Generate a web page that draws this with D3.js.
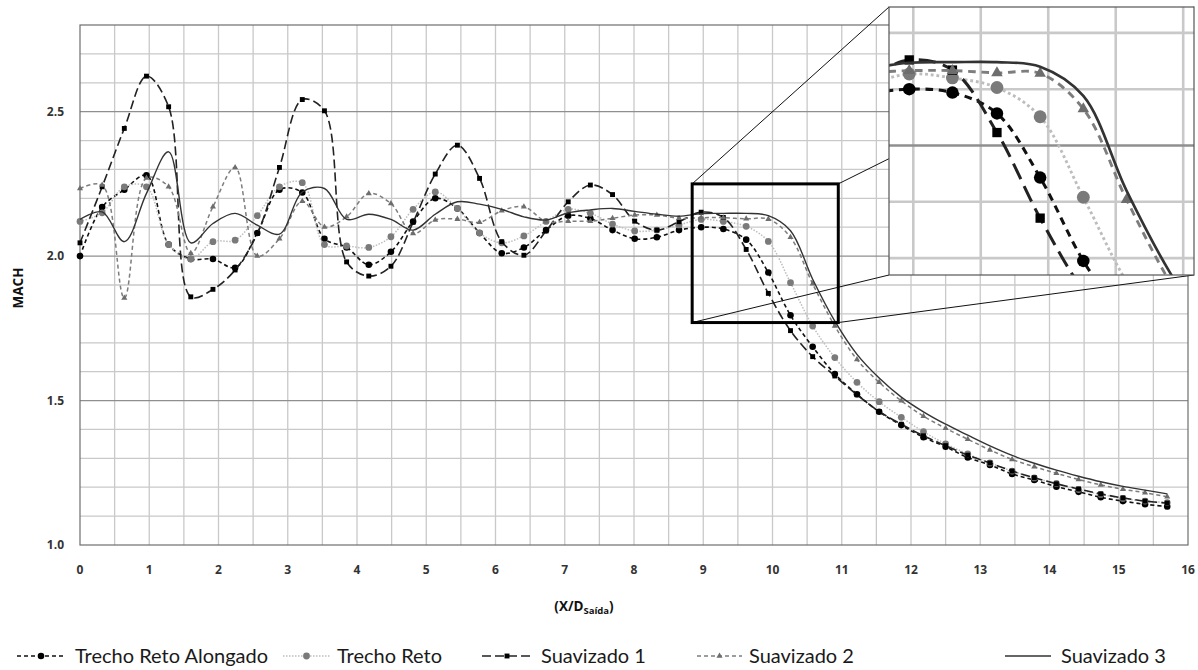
<!DOCTYPE html>
<html>
<head>
<meta charset="utf-8">
<script src="https://cdn.jsdelivr.net/npm/d3@7"></script>
<style>
  body { margin: 0; background: #fff; }
</style>
</head>
<body>
<div id="chart"></div>
<script>
// x positions of the computed points (X/D saida)
const xPos = [0, 0.32, 0.64, 0.96, 1.28, 1.60, 1.92, 2.24, 2.56, 2.88,
    3.21, 3.53, 3.85, 4.17, 4.49, 4.81, 5.13, 5.45, 5.77, 6.09,
    6.41, 6.73, 7.05, 7.37, 7.69, 8.01, 8.33, 8.65, 8.97, 9.29,
    9.62, 9.94, 10.26, 10.58, 10.90, 11.22, 11.54, 11.86, 12.18, 12.50,
    12.82, 13.14, 13.46, 13.78, 14.10, 14.42, 14.74, 15.06, 15.38, 15.70];

const trechoRetoAlongado = [2.00, 2.17, 2.23, 2.28, 2.04, 1.99, 1.99, 1.96, 2.08, 2.23,
    2.22, 2.06, 2.03, 1.97, 2.015, 2.12, 2.20, 2.165, 2.08, 2.01,
    2.03, 2.09, 2.14, 2.13, 2.09, 2.06, 2.065, 2.09, 2.10, 2.094,
    2.057, 1.943, 1.795, 1.686, 1.592, 1.522, 1.461, 1.415, 1.373, 1.340,
    1.303, 1.277, 1.246, 1.225, 1.202, 1.184, 1.165, 1.152, 1.141, 1.133];

const trechoReto = [2.12, 2.15, 2.24, 2.24, 2.04, 1.99, 2.05, 2.055, 2.14, 2.24,
    2.254, 2.04, 2.035, 2.03, 2.067, 2.162, 2.222, 2.165, 2.08, 2.046,
    2.07, 2.12, 2.162, 2.148, 2.111, 2.087, 2.09, 2.108, 2.127, 2.12,
    2.103, 2.051, 1.908, 1.758, 1.649, 1.563, 1.496, 1.442, 1.392, 1.350,
    1.315, 1.284, 1.256, 1.232, 1.213, 1.192, 1.175, 1.161, 1.152, 1.147];

const suavizado1 = [2.046, 2.24, 2.442, 2.623, 2.517, 1.859, 1.885, 1.952, 2.078, 2.307,
    2.542, 2.503, 1.980, 1.931, 1.965, 2.117, 2.284, 2.384, 2.269, 2.050,
    2.003, 2.087, 2.188, 2.246, 2.213, 2.121, 2.090, 2.119, 2.152, 2.134,
    2.023, 1.871, 1.742, 1.652, 1.585, 1.520, 1.462, 1.418, 1.378, 1.344,
    1.311, 1.284, 1.256, 1.233, 1.212, 1.194, 1.177, 1.163, 1.152, 1.145];

const suavizado2 = [2.234, 2.246, 1.855, 2.27, 2.24, 2.01, 2.171, 2.307, 2.00, 2.06,
    2.19, 2.101, 2.136, 2.217, 2.182, 2.078, 2.125, 2.128, 2.117, 2.157,
    2.171, 2.12, 2.121, 2.121, 2.131, 2.142, 2.142, 2.131, 2.133, 2.133,
    2.129, 2.128, 2.065, 1.904, 1.758, 1.642, 1.563, 1.499, 1.446, 1.404,
    1.366, 1.329, 1.296, 1.271, 1.248, 1.227, 1.208, 1.193, 1.181, 1.167];

const suavizado3 = [2.127, 2.153, 2.050, 2.217, 2.361, 2.046, 2.113, 2.148, 2.107, 2.076,
    2.222, 2.234, 2.127, 2.145, 2.127, 2.090, 2.145, 2.188, 2.18, 2.162,
    2.136, 2.125, 2.15, 2.16, 2.165, 2.155, 2.145, 2.138, 2.147, 2.148,
    2.148, 2.14, 2.088, 1.920, 1.775, 1.66, 1.578, 1.512, 1.461, 1.418,
    1.38, 1.343, 1.31, 1.283, 1.259, 1.238, 1.219, 1.203, 1.19, 1.177];

const seriesNames = ["Trecho Reto Alongado", "Trecho Reto", "Suavizado 1", "Suavizado 2", "Suavizado 3"];
const xTicks = [0, 1, 2, 3, 4, 5, 6, 7, 8, 9, 10, 11, 12, 13, 14, 15, 16];
const yTicks = [1.0, 1.5, 2.0, 2.5];

// zoomed region (data units) and inset domain
const zoomX = [8.84, 10.95];
const zoomY = [1.77, 2.25];
const insetX = [8.82, 11.08];
const insetY = [1.77, 2.246];

const width = 1198, height = 670;
const plot = { left: 80, right: 1188, top: 25, bottom: 545 };

const x = d3.scaleLinear().domain([0, 16]).range([plot.left, plot.right]);
const y = d3.scaleLinear().domain([1.0, 2.8]).range([plot.bottom, plot.top]);

const svg = d3.select("#chart").append("svg")
    .attr("width", width).attr("height", height)
    .style("font-family", "Lato, 'Open Sans', sans-serif");

// series styles
const styles = [
    { stroke: "#111", w: 1.6, dash: "4,3", sym: d3.symbolCircle, size: 34, fill: "#000" },
    { stroke: "#bdbdbd", w: 1.5, dash: "1.5,1.5", sym: d3.symbolCircle, size: 36, fill: "#7a7a7a" },
    { stroke: "#222", w: 1.6, dash: "9,4", sym: d3.symbolSquare, size: 24, fill: "#000" },
    { stroke: "#7d7d7d", w: 1.5, dash: "4,3", sym: d3.symbolTriangle, size: 16, fill: "#6d6d6d" },
    { stroke: "#333", w: 1.4, dash: null, sym: null }
];
const allSeries = [trechoRetoAlongado, trechoReto, suavizado1, suavizado2, suavizado3];

function drawGrid(g, xs, ys, xGrid, yGrid, yMajor, lw) {
    g.selectAll(".vg").data(xGrid).join("line")
        .attr("x1", d => xs(d)).attr("x2", d => xs(d))
        .attr("y1", ys.range()[0]).attr("y2", ys.range()[1])
        .attr("stroke", "#c9c9c9").attr("stroke-width", lw);
    g.selectAll(".hg").data(yGrid).join("line")
        .attr("x1", xs.range()[0]).attr("x2", xs.range()[1])
        .attr("y1", d => ys(d)).attr("y2", d => ys(d))
        .attr("stroke", d => yMajor(d) ? "#8f8f8f" : "#c9c9c9")
        .attr("stroke-width", lw);
}

function drawSeries(g, xs, ys, k) {
    const line = d3.line()
        .x((d, i) => xs(xPos[i]))
        .y(d => ys(d))
        .curve(d3.curveCatmullRom.alpha(0.5));
    allSeries.forEach((vals, s) => {
        const st = styles[s];
        g.append("path")
            .attr("d", line(vals))
            .attr("fill", "none")
            .attr("stroke", st.stroke)
            .attr("stroke-width", st.w * k)
            .attr("stroke-dasharray", st.dash ? st.dash.split(",").map(v => v * k).join(",") : null);
        if (st.sym) {
            g.selectAll(null).data(vals).join("path")
                .attr("transform", (d, i) => `translate(${xs(xPos[i])},${ys(d)})`)
                .attr("d", d3.symbol().type(st.sym).size(st.size * k * k))
                .attr("fill", st.fill);
        }
    });
}

// main grid
const grid = svg.append("g");
drawGrid(grid, x, y,
    d3.range(0.5, 16, 0.5),
    d3.range(11, 28).map(v => v / 10),
    d => Math.round(d * 10) % 5 === 0, 1.3);

// plot border
svg.append("rect")
    .attr("x", plot.left).attr("y", plot.top)
    .attr("width", plot.right - plot.left).attr("height", plot.bottom - plot.top)
    .attr("fill", "none").attr("stroke", "#6e6e6e").attr("stroke-width", 1.2);

// series
drawSeries(svg.append("g"), x, y, 1);

// tick labels
svg.append("g").selectAll("text").data(yTicks).join("text")
    .attr("x", 64).attr("y", d => y(d) + 4)
    .attr("text-anchor", "end")
    .attr("font-family", "'Open Sans', sans-serif")
    .attr("font-size", 12).attr("font-weight", "bold").attr("fill", "#333")
    .text(d => d.toFixed(1));

svg.append("g").selectAll("text").data(xTicks).join("text")
    .attr("x", d => x(d)).attr("y", 574)
    .attr("text-anchor", "middle")
    .attr("font-family", "'Open Sans', sans-serif")
    .attr("font-size", 12).attr("font-weight", "bold").attr("fill", "#333")
    .text(d => d);

// axis titles
svg.append("text")
    .attr("transform", "translate(23,288) rotate(-90)")
    .attr("text-anchor", "middle")
    .attr("font-family", "'Open Sans', sans-serif")
    .attr("font-size", 13.5).attr("font-weight", "bold").attr("fill", "#111")
    .text("MACH");

const xt = svg.append("text")
    .attr("x", 584).attr("y", 611)
    .attr("text-anchor", "middle")
    .attr("font-family", "'Open Sans', sans-serif")
    .attr("font-size", 13.5).attr("font-weight", "bold").attr("fill", "#111");
xt.append("tspan").text("(X/D");
xt.append("tspan").attr("font-size", 9.5).attr("dy", 3).text("Saída");
xt.append("tspan").attr("dy", -3).text(")");

// zoom box and connector lines
const bx0 = x(zoomX[0]), bx1 = x(zoomX[1]), by0 = y(zoomY[1]), by1 = y(zoomY[0]);
const inset = { x: 889, y: 7, w: 305, h: 268 };
const conn = [
    [bx0, by0, inset.x, inset.y],
    [bx1, by0, inset.x + inset.w, inset.y],
    [bx0, by1, inset.x, inset.y + inset.h],
    [bx1, by1, inset.x + inset.w, inset.y + inset.h]
];
svg.append("g").selectAll("line").data(conn).join("line")
    .attr("x1", d => d[0]).attr("y1", d => d[1])
    .attr("x2", d => d[2]).attr("y2", d => d[3])
    .attr("stroke", "#111").attr("stroke-width", 1);

svg.append("rect")
    .attr("x", bx0).attr("y", by0)
    .attr("width", bx1 - bx0).attr("height", by1 - by0)
    .attr("fill", "none").attr("stroke", "#000").attr("stroke-width", 3);

// inset (magnified view)
const ix = d3.scaleLinear().domain(insetX).range([inset.x, inset.x + inset.w]);
const iy = d3.scaleLinear().domain(insetY).range([inset.y + inset.h, inset.y]);

svg.append("clipPath").attr("id", "inset-clip")
    .append("rect")
    .attr("x", inset.x).attr("y", inset.y).attr("width", inset.w).attr("height", inset.h);

const ig = svg.append("g").attr("clip-path", "url(#inset-clip)");
ig.append("rect")
    .attr("x", inset.x).attr("y", inset.y).attr("width", inset.w).attr("height", inset.h)
    .attr("fill", "#fff");
drawGrid(ig, ix, iy, [9, 9.5, 10, 10.5, 11], [1.8, 1.9, 2.0, 2.1, 2.2],
    d => Math.abs(d - 2.0) < 1e-6, 2.6);
drawSeries(ig, ix, iy, 1.9);

svg.append("rect")
    .attr("x", inset.x).attr("y", inset.y).attr("width", inset.w).attr("height", inset.h)
    .attr("fill", "none").attr("stroke", "#555").attr("stroke-width", 1.2);

// legend
const legendPos = [
    { sx: 17, ex: 65, tx: 75 },
    { sx: 283, ex: 330, tx: 337 },
    { sx: 482, ex: 532, tx: 541 },
    { sx: 697, ex: 742, tx: 749 },
    { sx: 1005, ex: 1051, tx: 1061 }
];
const legend = svg.append("g");
const ly = 656;
seriesNames.forEach((name, s) => {
    const st = styles[s], p = legendPos[s];
    legend.append("line")
        .attr("x1", p.sx).attr("x2", p.ex).attr("y1", ly).attr("y2", ly)
        .attr("stroke", st.stroke).attr("stroke-width", st.w)
        .attr("stroke-dasharray", st.dash);
    if (st.sym) {
        legend.append("path")
            .attr("transform", `translate(${(p.sx + p.ex) / 2},${ly})`)
            .attr("d", d3.symbol().type(st.sym).size(st.size))
            .attr("fill", st.fill);
    }
    legend.append("text")
        .attr("x", p.tx).attr("y", ly + 7)
        .attr("font-size", 20).attr("fill", "#1a1a1a")
        .text(name);
});
</script>
</body>
</html>
